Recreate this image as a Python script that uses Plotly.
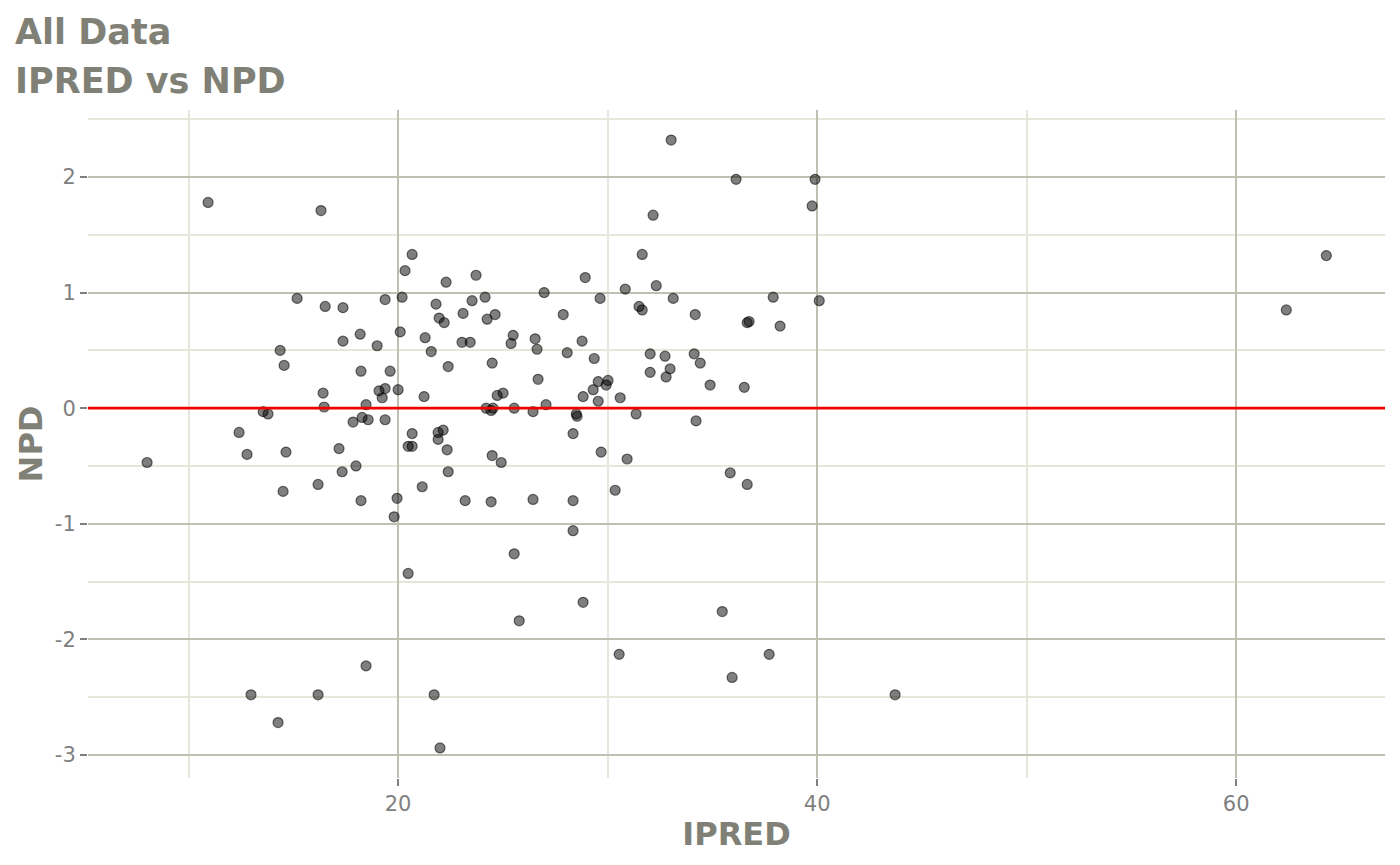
import plotly.graph_objects as go

# IPRED / NPD values
ipred = [8.02, 10.93, 12.41, 12.79, 12.98, 13.56, 13.79, 14.27, 14.37, 14.51,
         14.56, 14.65, 15.18, 16.18, 16.32, 16.42, 16.47, 16.52, 16.18, 17.18,
         17.33, 17.37, 17.37, 17.85, 17.99, 18.19, 18.23, 18.23, 18.28, 18.47,
         18.47, 18.57, 19.00, 19.09, 19.24, 19.38, 19.38, 19.38, 19.62, 19.81,
         19.95, 20.00, 20.10, 20.19, 20.33, 20.48, 20.48, 20.67, 20.67, 20.67,
         21.15, 21.24, 21.29, 21.58, 21.72, 21.81, 21.91, 21.91, 21.96, 22.00,
         22.15, 22.20, 22.29, 22.34, 22.39, 22.39, 23.05, 23.10, 23.20, 23.44,
         23.53, 23.72, 24.15, 24.25, 24.20, 24.44, 24.44, 24.49, 24.49, 24.53,
         24.63, 24.73, 24.92, 25.01, 25.39, 25.49, 25.54, 25.54, 25.78, 26.44,
         26.44, 26.54, 26.63, 26.68, 26.97, 27.06, 27.88, 28.07, 28.35, 28.35,
         28.35, 28.50, 28.54, 28.78, 28.83, 28.83, 28.93, 29.31, 29.36, 29.55,
         29.55, 29.69, 29.64, 29.93, 30.02, 30.36, 30.55, 30.60, 30.84, 30.93,
         31.36, 31.50, 31.65, 31.65, 32.03, 32.03, 32.17, 32.32, 32.74, 32.79,
         32.98, 33.03, 33.13, 34.13, 34.18, 34.22, 34.42, 34.89, 35.47, 35.85,
         35.94, 36.13, 36.52, 36.66, 36.66, 36.75, 37.71, 37.90, 38.23, 39.76,
         39.90, 40.10, 43.72, 62.39, 64.30]

npd = [-0.47, 1.78, -0.21, -0.40, -2.48, -0.03, -0.05, -2.72, 0.50, -0.72,
       0.37, -0.38, 0.95, -0.66, 1.71, 0.13, 0.01, 0.88, -2.48, -0.35,
       -0.55, 0.58, 0.87, -0.12, -0.50, 0.64, 0.32, -0.80, -0.08, -2.23,
       0.03, -0.10, 0.54, 0.15, 0.09, 0.94, 0.17, -0.10, 0.32, -0.94,
       -0.78, 0.16, 0.66, 0.96, 1.19, -1.43, -0.33, -0.22, -0.33, 1.33,
       -0.68, 0.10, 0.61, 0.49, -2.48, 0.90, -0.27, -0.21, 0.78, -2.94,
       -0.19, 0.74, 1.09, -0.36, -0.55, 0.36, 0.57, 0.82, -0.80, 0.57,
       0.93, 1.15, 0.96, 0.77, 0.00, -0.02, -0.81, 0.39, -0.41, 0.00,
       0.81, 0.11, -0.47, 0.13, 0.56, 0.63, 0.00, -1.26, -1.84, -0.03,
       -0.79, 0.60, 0.51, 0.25, 1.00, 0.03, 0.81, 0.48, -0.22, -0.80,
       -1.06, -0.05, -0.07, 0.58, -1.68, 0.10, 1.13, 0.16, 0.43, 0.06,
       0.23, -0.38, 0.95, 0.20, 0.24, -0.71, -2.13, 0.09, 1.03, -0.44,
       -0.05, 0.88, 0.85, 1.33, 0.47, 0.31, 1.67, 1.06, 0.45, 0.27,
       0.34, 2.32, 0.95, 0.47, 0.81, -0.11, 0.39, 0.20, -1.76, -0.56,
       -2.33, 1.98, 0.18, -0.66, 0.74, 0.75, -2.13, 0.96, 0.71, 1.75,
       1.98, 0.93, -2.48, 0.85, 1.32]

ref_npd = 0

x_ticks = [20, 40, 60]
y_ticks = [-3, -2, -1, 0, 1, 2]
y_labels = ["-3", "-2", "-1", "0", "1", "2"]

grey = "#808076"
major = "#BFBFB2"
minor = "#E6E6DA"

fig = go.Figure()
fig.add_trace(go.Scatter(x=ipred, y=npd, mode="markers", showlegend=False,
                         marker=dict(size=10, color="rgba(0,0,0,0.5)",
                                     line=dict(width=1.2, color="rgba(0,0,0,0.55)"))))
fig.add_hline(y=ref_npd, line=dict(color="#EE0000", width=2.8), layer="above")

axis_common = dict(showline=False, zeroline=False, ticks="outside", ticklen=7,
                   tickwidth=2, tickcolor="#7F7F7F", gridcolor=major, gridwidth=2,
                   automargin=False,
                   tickfont=dict(family="DejaVu Sans", size=21, color="#7F7F7F"))

fig.update_xaxes(range=[5.2, 67.1], tickvals=x_ticks,
                 minor=dict(dtick=10, tick0=0, showgrid=True, gridcolor=minor, gridwidth=2, ticks=""),
                 title=dict(text="<b>IPRED</b>", standoff=7,
                            font=dict(family="DejaVu Sans", size=32, color=grey)),
                 **axis_common)
fig.update_yaxes(range=[-3.2, 2.58], tickvals=y_ticks, ticktext=y_labels,
                 minor=dict(dtick=0.5, tick0=0, showgrid=True, gridcolor=minor, gridwidth=2, ticks=""),
                 title=dict(text="<b>NPD</b>", standoff=2,
                            font=dict(family="DejaVu Sans", size=32, color=grey)),
                 **axis_common)

fig.add_annotation(text="<b>All Data</b>", xref="paper", yref="paper", x=-0.058, y=1.117,
                   xanchor="left", yanchor="middle", showarrow=False,
                   font=dict(family="DejaVu Sans", size=35, color=grey))
fig.add_annotation(text="<b>IPRED vs NPD</b>", xref="paper", yref="paper", x=-0.058, y=1.0434,
                   xanchor="left", yanchor="middle", showarrow=False,
                   font=dict(family="DejaVu Sans", size=35, color=grey))

fig.update_layout(width=1400, height=865, plot_bgcolor="white", paper_bgcolor="white",
                  margin=dict(l=80, r=23, t=102, b=95))

fig.write_html("out.html")
